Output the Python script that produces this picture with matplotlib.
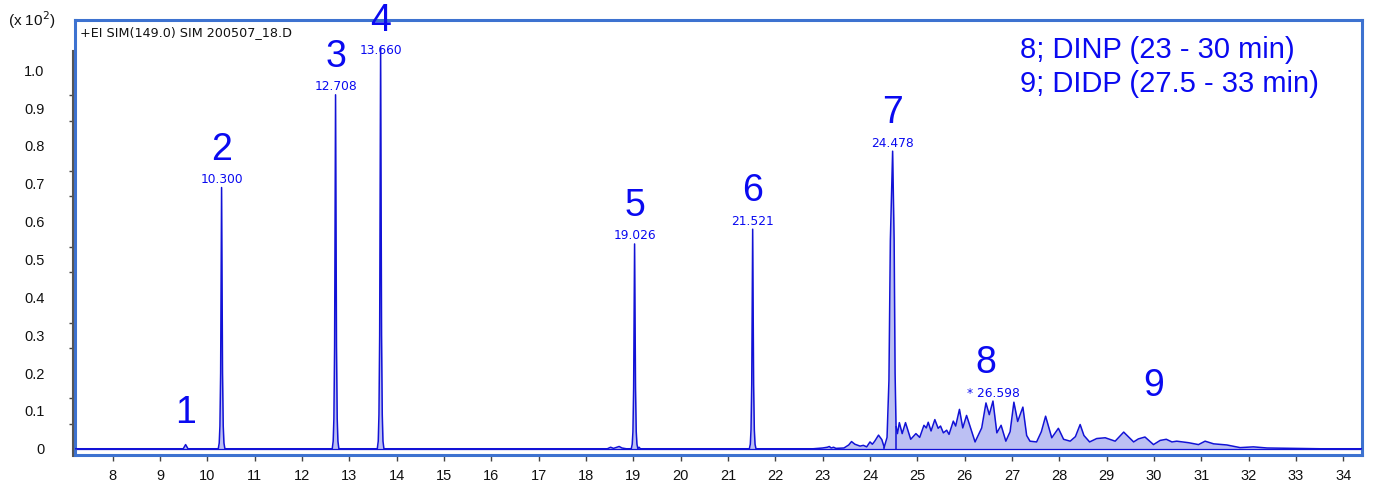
import numpy as np
import matplotlib
matplotlib.use("Agg")
import matplotlib.pyplot as plt
from matplotlib.lines import Line2D

plt.rcParams['font.family'] = ['Liberation Sans', 'DejaVu Sans']

# ---------------- data ----------------
trace_time = [
    7.20, 9.49, 9.54, 9.59,
    10.23, 10.25, 10.265, 10.28, 10.29, 10.30, 10.31, 10.32, 10.335, 10.35, 10.37,
    12.638, 12.658, 12.673, 12.688, 12.698, 12.708, 12.718, 12.728, 12.743, 12.758, 12.778,
    13.59, 13.61, 13.625, 13.64, 13.65, 13.66, 13.67, 13.68, 13.695, 13.71, 13.73,
    18.45, 18.52, 18.58, 18.70, 18.76, 18.85,
    18.956, 18.976, 18.991, 19.006, 19.016, 19.026, 19.036, 19.046, 19.061, 19.076, 19.096, 19.12, 19.15,
    21.451, 21.471, 21.486, 21.501, 21.511, 21.521, 21.531, 21.541, 21.556, 21.571, 21.591,
    22.80, 23.00, 23.10, 23.14, 23.18, 23.23, 23.28, 23.45, 23.55, 23.61,
    23.68, 23.79, 23.86, 23.93, 24.00, 24.05, 24.10, 24.18, 24.25, 24.30,
    24.36, 24.40, 24.43, 24.478, 24.51, 24.53, 24.55, 24.58, 24.62, 24.68,
    24.75, 24.86, 24.97, 25.05, 25.14, 25.19, 25.23, 25.29, 25.37, 25.44,
    25.49, 25.55, 25.62, 25.67, 25.76, 25.81, 25.89, 25.96, 26.04, 26.22,
    26.36, 26.45, 26.52, 26.598, 26.68, 26.77, 26.87, 26.96, 27.04, 27.12,
    27.23, 27.31, 27.38, 27.52, 27.62, 27.71, 27.84, 27.98, 28.09, 28.23,
    28.34, 28.44, 28.52, 28.64, 28.79, 28.97, 29.18, 29.36, 29.57, 29.67,
    29.81, 29.99, 30.13, 30.26, 30.38, 30.48, 30.73, 30.94, 31.08, 31.26,
    31.54, 31.82, 32.10, 32.39, 32.95, 33.51, 34.40,
]
trace_abund = [
    0.0, 0.0, 0.011, 0.0,
    0.0, 0.015, 0.06, 0.20, 0.46, 0.690, 0.46, 0.20, 0.06, 0.015, 0.0,
    0.0, 0.02, 0.08, 0.27, 0.62, 0.935, 0.62, 0.27, 0.08, 0.02, 0.0,
    0.0, 0.02, 0.09, 0.30, 0.70, 1.060, 0.70, 0.30, 0.09, 0.02, 0.0,
    0.0, 0.004, 0.001, 0.006, 0.002, 0.0,
    0.0, 0.012, 0.045, 0.16, 0.36, 0.541, 0.36, 0.16, 0.045, 0.012, 0.0, 0.004, 0.0,
    0.0, 0.012, 0.05, 0.17, 0.39, 0.580, 0.39, 0.17, 0.05, 0.012, 0.0,
    0.000, 0.002, 0.004, 0.006, 0.002, 0.004, 0.001, 0.002, 0.010, 0.019,
    0.012, 0.007, 0.009, 0.005, 0.018, 0.012, 0.020, 0.036, 0.024, 0.004,
    0.030, 0.180, 0.550, 0.786, 0.550, 0.200, 0.060, 0.040, 0.069, 0.040,
    0.069, 0.025, 0.040, 0.030, 0.062, 0.055, 0.070, 0.047, 0.077, 0.054,
    0.060, 0.042, 0.049, 0.038, 0.073, 0.060, 0.104, 0.055, 0.088, 0.018,
    0.055, 0.121, 0.090, 0.126, 0.042, 0.062, 0.020, 0.045, 0.123, 0.072,
    0.110, 0.035, 0.020, 0.018, 0.045, 0.086, 0.029, 0.054, 0.025, 0.020,
    0.032, 0.064, 0.035, 0.018, 0.027, 0.029, 0.020, 0.044, 0.018, 0.026,
    0.031, 0.011, 0.022, 0.025, 0.018, 0.020, 0.016, 0.011, 0.020, 0.013,
    0.010, 0.003, 0.005, 0.002, 0.001, 0.000, 0.000,
]

peak_ids = ['2', '3', '4', '5', '6', '7', '8']
peak_rt = [10.300, 12.708, 13.660, 19.026, 21.521, 24.478, 26.598]
peak_h = [0.690, 0.935, 1.060, 0.541, 0.580, 0.786, 0.126]
rt_labels = ['10.300', '12.708', '13.660', '19.026', '21.521', '24.478', '* 26.598']
id_shift_min = [0, 0, 0, 0, 0, 0, -0.15]

extra_ids = ['1', '9']
extra_rt = [9.53, 30.00]
extra_y = [0.095, 0.165]

drop_times = [24.30, 24.55]

x_ticks = list(range(8, 35))
y_labels = ['0', '0.1', '0.2', '0.3', '0.4', '0.5', '0.6', '0.7', '0.8', '0.9', '1.0']
title_text = '+EI SIM(149.0) SIM 200507_18.D'
legend_lines = ['8; DINP (23 - 30 min)', '9; DIDP (27.5 - 33 min)']

# ---------------- figure ----------------
W, H = 1373, 492
fig = plt.figure(figsize=(W / 100, H / 100), dpi=100)
ax = fig.add_axes([75 / W, 1 - 455 / H, (1362 - 75) / W, (455 - 20) / H])

line_c = '#1212d6'
fill_c = '#bcc0f3'
txt_c = '#0a0af0'
frame_c = '#3d72d0'

t = np.array(trace_time)
a = np.array(trace_abund)
ax.fill_between(t, 0, a, color=fill_c, lw=0, zorder=1)
ax.plot(t, a, color=line_c, lw=1.1, zorder=3)
ax.axhline(0, color=line_c, lw=0.9, zorder=2)
for dt in drop_times:
    ax.vlines(dt, 0, np.interp(dt, t, a), color=line_c, lw=1.1, zorder=3)

ax.set_xlim(7.203, 34.395)
ax.set_ylim(-0.0165, 1.1325)

px = 1 / 378.6  # data units per pixel vertically
for pid, rt, h, lab, sh in zip(peak_ids, peak_rt, peak_h, rt_labels, id_shift_min):
    ly = min(h + 8 * px, (448 - 50) * px)
    ax.text(rt, ly, lab, ha='center', va='center', fontsize=8.8,
            family=['DejaVu Sans'], color=txt_c, zorder=4, clip_on=False)
    ax.text(rt + sh, ly + 30 * px, pid, ha='center', va='center', fontsize=27,
            color=txt_c, zorder=4, clip_on=False)
for pid, rt, yy in zip(extra_ids, extra_rt, extra_y):
    ax.text(rt, yy, pid, ha='center', va='center', fontsize=27, color=txt_c, zorder=4)

# frame
for sp in ax.spines.values():
    sp.set_color(frame_c)
    sp.set_linewidth(2.2)

ax.set_xticks(x_ticks)
ax.set_xticklabels([str(v) for v in x_ticks])
ax.tick_params(axis='x', direction='out', length=4, width=1, color='#444',
               labelsize=10.5, pad=6, labelcolor='#111')
ax.set_yticks(np.arange(0, 1.01, 0.1))
ax.set_yticklabels(y_labels)
ax.set_yticks(np.arange(0, 16) / 15, minor=True)
ax.tick_params(axis='y', which='major', length=0, pad=22, labelsize=10.5, labelcolor='#111')
ax.tick_params(axis='y', which='minor', direction='out', length=4.5, width=1, color='#444')

# gray y-axis line
fig.add_artist(Line2D([73 / W, 73 / W], [1 - 51 / H, 1 - 456 / H],
                      transform=fig.transFigure, color='#555555', lw=1.5))

fig.text(80 / W, 1 - 33 / H, title_text, ha='left', va='center', fontsize=9.2,
         family=['DejaVu Sans'], color='#111')
fig.text(8 / W, 1 - 20 / H, '(x 10$^2$)', ha='left', va='center', fontsize=11, color='#111')
fig.text(1020 / W, 1 - 50 / H, legend_lines[0], ha='left', va='center', fontsize=21, color=txt_c)
fig.text(1020 / W, 1 - 84 / H, legend_lines[1], ha='left', va='center', fontsize=21, color=txt_c)

fig.savefig('out.png', dpi=100)
